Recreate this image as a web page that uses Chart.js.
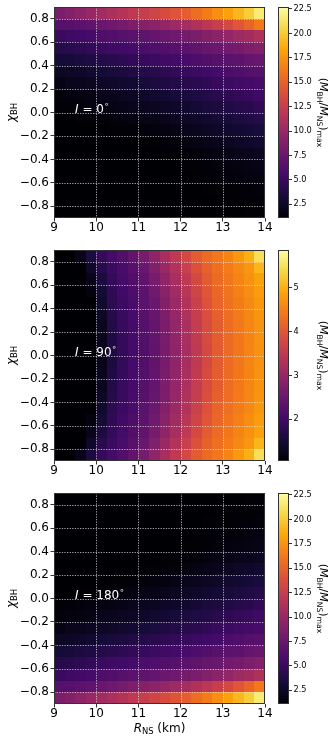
<!DOCTYPE html>
<html>
<head>
<meta charset="utf-8">
<script src="https://cdn.jsdelivr.net/npm/chart.js@4.4.1/dist/chart.umd.min.js"></script>
<style>
  html, body { margin: 0; padding: 0; background: #fff; }
  body { position: relative; width: 333px; height: 741px; overflow: hidden; }
  canvas { position: absolute; }
</style>
</head>
<body>
<canvas id="map0" width="275" height="240" style="left:0px;top:0px"></canvas>
<canvas id="bar0" width="63" height="240" style="left:270px;top:0px"></canvas>
<canvas id="map1" width="275" height="240" style="left:0px;top:243px"></canvas>
<canvas id="bar1" width="63" height="240" style="left:270px;top:243px"></canvas>
<canvas id="map2" width="275" height="255" style="left:0px;top:486px"></canvas>
<canvas id="bar2" width="63" height="240" style="left:270px;top:486px"></canvas>
<script>
// ===== DATA =====
// cell centres: R_NS (km) and chi_BH
const rCells   = [9.125, 9.375, 9.625, 9.875, 10.125, 10.375, 10.625, 10.875, 11.125, 11.375,
                  11.625, 11.875, 12.125, 12.375, 12.625, 12.875, 13.125, 13.375, 13.625, 13.875];
const chiCells = [0.85, 0.75, 0.65, 0.55, 0.45, 0.35, 0.25, 0.15, 0.05,
                  -0.05, -0.15, -0.25, -0.35, -0.45, -0.55, -0.65, -0.75, -0.85];
const inclinations = [0, 90, 180];
const rTicks   = [9, 10, 11, 12, 13, 14];
const chiTicks = [-0.8, -0.6, -0.4, -0.2, 0, 0.2, 0.4, 0.6, 0.8];
const cbTicksWide = [2.5, 5, 7.5, 10, 12.5, 15, 17.5, 20, 22.5];
const cbTicks90   = [2, 3, 4, 5];
const cbRangeWide = [1.1, 22.7];
const cbRange90   = [1.05, 5.86];

// (M_BH/M_NS)_max, rows top (chi=0.85) to bottom (chi=-0.85)
const ratioI0 = [
  [8.4, 8.9, 9.4, 10.0, 10.5, 11.0, 11.5, 12.1, 12.5, 13.1, 13.6, 14.2, 14.8, 15.6, 16.4, 17.3, 18.2, 19.1, 20.1, 21.6],
  [6.4, 6.6, 6.8, 7.1, 7.5, 7.8, 8.1, 8.6, 9.0, 9.3, 9.7, 10.2, 10.7, 11.3, 11.9, 12.6, 13.4, 14.3, 15.1, 16.2],
  [5.0, 5.2, 5.4, 5.6, 6.1, 6.3, 6.5, 6.8, 7.0, 7.3, 7.6, 7.8, 8.1, 8.4, 8.9, 9.3, 9.7, 10.2, 10.6, 11.1],
  [4.0, 4.2, 4.4, 4.7, 5.0, 5.2, 5.4, 5.6, 5.9, 6.1, 6.3, 6.5, 6.8, 7.0, 7.4, 7.6, 7.9, 8.2, 8.6, 8.9],
  [3.2, 3.3, 3.5, 3.7, 4.0, 4.2, 4.4, 4.7, 4.9, 5.1, 5.3, 5.5, 5.7, 6.0, 6.3, 6.5, 6.7, 6.9, 7.3, 7.5],
  [2.4, 2.5, 2.7, 2.9, 3.2, 3.4, 3.6, 3.8, 4.0, 4.2, 4.4, 4.7, 4.9, 5.1, 5.4, 5.6, 5.9, 6.1, 6.4, 6.6],
  [1.7, 2.0, 2.1, 2.3, 2.5, 2.6, 2.8, 3.0, 3.3, 3.5, 3.7, 3.9, 4.1, 4.3, 4.6, 4.9, 5.1, 5.3, 5.5, 5.7],
  [1.4, 1.5, 1.6, 1.7, 2.0, 2.1, 2.3, 2.4, 2.6, 2.8, 3.0, 3.3, 3.5, 3.7, 3.9, 4.2, 4.4, 4.7, 4.9, 5.2],
  [1.2, 1.3, 1.4, 1.5, 1.6, 1.7, 1.9, 2.0, 2.2, 2.3, 2.5, 2.7, 2.9, 3.1, 3.4, 3.6, 3.8, 4.0, 4.2, 4.6],
  [1.1, 1.1, 1.2, 1.2, 1.3, 1.4, 1.5, 1.6, 1.8, 1.9, 2.1, 2.3, 2.5, 2.7, 2.9, 3.1, 3.3, 3.5, 3.8, 4.0],
  [1.1, 1.1, 1.1, 1.1, 1.1, 1.2, 1.2, 1.3, 1.4, 1.5, 1.6, 1.8, 2.0, 2.2, 2.4, 2.6, 2.8, 3.0, 3.2, 3.4],
  [1.1, 1.1, 1.1, 1.1, 1.1, 1.1, 1.1, 1.1, 1.2, 1.2, 1.3, 1.4, 1.6, 1.7, 1.9, 2.1, 2.3, 2.5, 2.7, 2.9],
  [1.1, 1.1, 1.1, 1.1, 1.1, 1.1, 1.1, 1.1, 1.1, 1.1, 1.2, 1.2, 1.3, 1.4, 1.5, 1.7, 1.8, 2.0, 2.1, 2.3],
  [1.1, 1.1, 1.1, 1.1, 1.1, 1.1, 1.1, 1.1, 1.1, 1.1, 1.1, 1.1, 1.2, 1.2, 1.3, 1.4, 1.5, 1.6, 1.7, 1.9],
  [1.1, 1.1, 1.1, 1.1, 1.1, 1.1, 1.1, 1.1, 1.1, 1.1, 1.1, 1.1, 1.1, 1.2, 1.2, 1.3, 1.3, 1.4, 1.5, 1.6],
  [1.1, 1.1, 1.1, 1.1, 1.1, 1.1, 1.1, 1.1, 1.1, 1.1, 1.1, 1.1, 1.1, 1.1, 1.2, 1.2, 1.2, 1.3, 1.3, 1.4],
  [1.1, 1.1, 1.1, 1.1, 1.1, 1.1, 1.1, 1.1, 1.1, 1.1, 1.1, 1.1, 1.1, 1.1, 1.1, 1.1, 1.2, 1.2, 1.2, 1.3],
  [1.1, 1.1, 1.1, 1.1, 1.1, 1.1, 1.1, 1.1, 1.1, 1.1, 1.1, 1.1, 1.1, 1.1, 1.1, 1.1, 1.1, 1.1, 1.2, 1.2]
];

const ratioI90 = [
  [1.05, 1.05, 1.24, 1.60, 1.87, 2.04, 2.20, 2.40, 2.64, 2.93, 3.21, 3.50, 3.79, 4.06, 4.25, 4.39, 4.54, 4.75, 4.99, 5.48],
  [1.05, 1.05, 1.05, 1.40, 1.74, 1.94, 2.09, 2.28, 2.47, 2.75, 3.04, 3.33, 3.62, 3.91, 4.15, 4.31, 4.45, 4.60, 4.74, 5.04],
  [1.05, 1.05, 1.05, 1.24, 1.60, 1.87, 2.04, 2.20, 2.40, 2.64, 2.93, 3.21, 3.50, 3.79, 4.06, 4.25, 4.39, 4.54, 4.68, 4.85],
  [1.05, 1.05, 1.05, 1.14, 1.51, 1.81, 2.00, 2.15, 2.34, 2.56, 2.84, 3.13, 3.42, 3.71, 3.99, 4.21, 4.35, 4.50, 4.64, 4.80],
  [1.05, 1.05, 1.05, 1.05, 1.43, 1.77, 1.96, 2.10, 2.30, 2.49, 2.78, 3.07, 3.35, 3.64, 3.93, 4.17, 4.32, 4.46, 4.60, 4.75],
  [1.05, 1.05, 1.05, 1.05, 1.35, 1.70, 1.92, 2.07, 2.26, 2.45, 2.72, 3.01, 3.30, 3.58, 3.87, 4.12, 4.29, 4.43, 4.58, 4.72],
  [1.05, 1.05, 1.05, 1.05, 1.30, 1.66, 1.90, 2.06, 2.23, 2.43, 2.69, 2.97, 3.26, 3.55, 3.84, 4.09, 4.27, 4.42, 4.56, 4.71],
  [1.05, 1.05, 1.05, 1.05, 1.27, 1.63, 1.88, 2.05, 2.22, 2.41, 2.66, 2.95, 3.24, 3.53, 3.82, 4.08, 4.26, 4.40, 4.55, 4.69],
  [1.05, 1.05, 1.05, 1.05, 1.24, 1.60, 1.87, 2.04, 2.20, 2.40, 2.64, 2.93, 3.21, 3.50, 3.79, 4.06, 4.25, 4.39, 4.54, 4.68],
  [1.05, 1.05, 1.05, 1.05, 1.24, 1.60, 1.87, 2.04, 2.20, 2.40, 2.64, 2.93, 3.21, 3.50, 3.79, 4.06, 4.25, 4.39, 4.54, 4.68],
  [1.05, 1.05, 1.05, 1.05, 1.27, 1.63, 1.88, 2.05, 2.22, 2.41, 2.66, 2.95, 3.24, 3.53, 3.82, 4.08, 4.26, 4.40, 4.55, 4.69],
  [1.05, 1.05, 1.05, 1.05, 1.30, 1.66, 1.90, 2.06, 2.23, 2.43, 2.69, 2.97, 3.26, 3.55, 3.84, 4.09, 4.27, 4.42, 4.56, 4.71],
  [1.05, 1.05, 1.05, 1.05, 1.35, 1.70, 1.92, 2.07, 2.26, 2.45, 2.72, 3.01, 3.30, 3.58, 3.87, 4.12, 4.29, 4.43, 4.58, 4.72],
  [1.05, 1.05, 1.05, 1.05, 1.43, 1.77, 1.96, 2.10, 2.30, 2.49, 2.78, 3.07, 3.35, 3.64, 3.93, 4.17, 4.32, 4.46, 4.60, 4.75],
  [1.05, 1.05, 1.05, 1.14, 1.51, 1.81, 2.00, 2.15, 2.34, 2.56, 2.84, 3.13, 3.42, 3.71, 3.99, 4.21, 4.35, 4.50, 4.64, 4.80],
  [1.05, 1.05, 1.05, 1.24, 1.60, 1.87, 2.04, 2.20, 2.40, 2.64, 2.93, 3.21, 3.50, 3.79, 4.06, 4.25, 4.39, 4.54, 4.68, 4.85],
  [1.05, 1.05, 1.05, 1.40, 1.74, 1.94, 2.09, 2.28, 2.47, 2.75, 3.04, 3.33, 3.62, 3.91, 4.15, 4.31, 4.45, 4.60, 4.74, 5.04],
  [1.05, 1.05, 1.24, 1.60, 1.87, 2.04, 2.20, 2.40, 2.64, 2.93, 3.21, 3.50, 3.79, 4.06, 4.25, 4.39, 4.54, 4.75, 4.99, 5.48]
];

const ratioI180 = [
  [1.1, 1.1, 1.1, 1.1, 1.1, 1.1, 1.1, 1.1, 1.1, 1.1, 1.1, 1.1, 1.1, 1.1, 1.1, 1.1, 1.1, 1.1, 1.2, 1.2],
  [1.1, 1.1, 1.1, 1.1, 1.1, 1.1, 1.1, 1.1, 1.1, 1.1, 1.1, 1.1, 1.1, 1.1, 1.1, 1.1, 1.2, 1.2, 1.2, 1.3],
  [1.1, 1.1, 1.1, 1.1, 1.1, 1.1, 1.1, 1.1, 1.1, 1.1, 1.1, 1.1, 1.1, 1.1, 1.2, 1.2, 1.2, 1.3, 1.3, 1.4],
  [1.1, 1.1, 1.1, 1.1, 1.1, 1.1, 1.1, 1.1, 1.1, 1.1, 1.1, 1.1, 1.1, 1.2, 1.2, 1.3, 1.3, 1.4, 1.5, 1.6],
  [1.1, 1.1, 1.1, 1.1, 1.1, 1.1, 1.1, 1.1, 1.1, 1.1, 1.1, 1.1, 1.2, 1.2, 1.3, 1.4, 1.5, 1.6, 1.7, 1.9],
  [1.1, 1.1, 1.1, 1.1, 1.1, 1.1, 1.1, 1.1, 1.1, 1.1, 1.2, 1.2, 1.3, 1.4, 1.5, 1.7, 1.8, 2.0, 2.1, 2.3],
  [1.1, 1.1, 1.1, 1.1, 1.1, 1.1, 1.1, 1.1, 1.2, 1.2, 1.3, 1.4, 1.6, 1.7, 1.9, 2.1, 2.3, 2.5, 2.7, 2.9],
  [1.1, 1.1, 1.1, 1.1, 1.1, 1.2, 1.2, 1.3, 1.4, 1.5, 1.6, 1.8, 2.0, 2.2, 2.4, 2.6, 2.8, 3.0, 3.2, 3.4],
  [1.1, 1.1, 1.2, 1.2, 1.3, 1.4, 1.5, 1.6, 1.8, 1.9, 2.1, 2.3, 2.5, 2.7, 2.9, 3.1, 3.3, 3.5, 3.8, 4.0],
  [1.2, 1.3, 1.4, 1.5, 1.6, 1.7, 1.9, 2.0, 2.2, 2.3, 2.5, 2.7, 2.9, 3.1, 3.4, 3.6, 3.8, 4.0, 4.2, 4.6],
  [1.4, 1.5, 1.6, 1.7, 2.0, 2.1, 2.3, 2.4, 2.6, 2.8, 3.0, 3.3, 3.5, 3.7, 3.9, 4.2, 4.4, 4.7, 4.9, 5.2],
  [1.7, 2.0, 2.1, 2.3, 2.5, 2.6, 2.8, 3.0, 3.3, 3.5, 3.7, 3.9, 4.1, 4.3, 4.6, 4.9, 5.1, 5.3, 5.5, 5.7],
  [2.4, 2.5, 2.7, 2.9, 3.2, 3.4, 3.6, 3.8, 4.0, 4.2, 4.4, 4.7, 4.9, 5.1, 5.4, 5.6, 5.9, 6.1, 6.4, 6.6],
  [3.2, 3.3, 3.5, 3.7, 4.0, 4.2, 4.4, 4.7, 4.9, 5.1, 5.3, 5.5, 5.7, 6.0, 6.3, 6.5, 6.7, 6.9, 7.3, 7.5],
  [4.0, 4.2, 4.4, 4.7, 5.0, 5.2, 5.4, 5.6, 5.9, 6.1, 6.3, 6.5, 6.8, 7.0, 7.4, 7.6, 7.9, 8.2, 8.6, 8.9],
  [5.0, 5.2, 5.4, 5.6, 6.1, 6.3, 6.5, 6.8, 7.0, 7.3, 7.6, 7.8, 8.1, 8.4, 8.9, 9.3, 9.7, 10.2, 10.6, 11.1],
  [6.4, 6.6, 6.8, 7.1, 7.5, 7.8, 8.1, 8.6, 9.0, 9.3, 9.7, 10.2, 10.7, 11.3, 11.9, 12.6, 13.4, 14.3, 15.1, 16.2],
  [8.4, 8.9, 9.4, 10.0, 10.5, 11.0, 11.5, 12.1, 12.5, 13.1, 13.6, 14.2, 14.8, 15.6, 16.4, 17.3, 18.2, 19.1, 20.1, 21.6]
];

// ===== HELPERS =====
const FONT = '"DejaVu Sans", sans-serif';
const PLOT_BOTTOM = 218;

const infernoStops = ['#000004', '#160b39', '#420a68', '#6a176e', '#932667', '#bc3754',
                      '#dd513a', '#f37819', '#fca50a', '#f6d746', '#fcffa4'];
const infernoRgb = infernoStops.map(h => [1, 3, 5].map(i => parseInt(h.slice(i, i + 2), 16)));

function inferno(t) {
  t = Math.min(1, Math.max(0, t));
  const f = t * 10, i = Math.min(9, Math.floor(f)), u = f - i;
  const a = infernoRgb[i], b = infernoRgb[i + 1];
  return 'rgb(' + a.map((c, k) => Math.round(c + (b[k] - c) * u)).join(',') + ')';
}

function cellsOf(grid) {
  const w = rCells[1] - rCells[0], h = chiCells[0] - chiCells[1];
  const out = [];
  grid.forEach((row, j) => row.forEach((v, i) => {
    out.push({ x: rCells[i], y: chiCells[j], v: v, w: w, h: h });
  }));
  return out;
}

// rich text: parts = [{t, it, sub, sup}]
function partFont(p, size) {
  const s = (p.sub || p.sup) ? size * 0.7 : size;
  return (p.it ? 'italic ' : '') + s + 'px ' + FONT;
}
function partsWidth(ctx, parts, size) {
  let w = 0;
  parts.forEach(p => { ctx.font = partFont(p, size); w += ctx.measureText(p.t).width; });
  return w;
}
function drawParts(ctx, parts, x, y, size) {
  let cx = x;
  ctx.textBaseline = 'alphabetic';
  ctx.textAlign = 'left';
  parts.forEach(p => {
    ctx.font = partFont(p, size);
    const dy = p.sub ? size * 0.2 : (p.sup ? -size * 0.42 : 0);
    ctx.fillText(p.t, cx, y + dy);
    cx += ctx.measureText(p.t).width;
  });
}

const yTitle  = [{ t: 'χ', it: true }, { t: 'BH', sub: true }];
const xTitle  = [{ t: 'R', it: true }, { t: 'NS', sub: true }, { t: ' (km)' }];
const cbTitle = [{ t: '(' }, { t: 'M', it: true }, { t: 'BH', sub: true }, { t: '/' },
                 { t: 'M', it: true }, { t: 'NS', sub: true }, { t: ')' }, { t: 'max', sub: true }];

function fixSize(prop, val) {
  return function (s) {
    s[prop] = val;
    s.paddingLeft = s.paddingRight = s.paddingTop = s.paddingBottom = 0;
  };
}

// ===== HEATMAP PLUGIN =====
const heatPlugin = {
  id: 'heat',
  beforeDatasetsDraw(chart, args, opts) {
    const ctx = chart.ctx, sx = chart.scales.x, sy = chart.scales.y;
    ctx.save();
    chart.data.datasets[0].data.forEach(c => {
      const x0 = Math.round(sx.getPixelForValue(c.x - c.w / 2));
      const x1 = Math.round(sx.getPixelForValue(c.x + c.w / 2));
      const y0 = Math.round(sy.getPixelForValue(c.y + c.h / 2));
      const y1 = Math.round(sy.getPixelForValue(c.y - c.h / 2));
      ctx.fillStyle = inferno((c.v - opts.min) / (opts.max - opts.min));
      ctx.fillRect(x0, y0, x1 - x0, y1 - y0);
    });
    ctx.restore();
  },
  afterDatasetsDraw(chart, args, opts) {
    const ctx = chart.ctx, a = chart.chartArea, sx = chart.scales.x, sy = chart.scales.y;
    ctx.save();
    // dotted grid over the image
    ctx.strokeStyle = 'rgba(235,235,235,0.85)';
    ctx.lineWidth = 0.8;
    ctx.setLineDash([1.3, 1.3]);
    sx.ticks.forEach(t => {
      const px = Math.round(sx.getPixelForValue(t.value)) + 0.5;
      ctx.beginPath(); ctx.moveTo(px, a.top); ctx.lineTo(px, a.bottom); ctx.stroke();
    });
    sy.ticks.forEach(t => {
      const py = Math.round(sy.getPixelForValue(t.value)) + 0.5;
      ctx.beginPath(); ctx.moveTo(a.left, py); ctx.lineTo(a.right, py); ctx.stroke();
    });
    ctx.setLineDash([]);
    // frame
    ctx.strokeStyle = '#333';
    ctx.lineWidth = 1;
    ctx.strokeRect(a.left + 0.5, a.top + 0.5, a.right - a.left - 1, a.bottom - a.top - 1);
    // inclination tag
    ctx.fillStyle = '#fff';
    drawParts(ctx, [{ t: 'I', it: true }, { t: ' = ' }, { t: String(opts.inc) }, { t: '∘', sup: true }],
      sx.getPixelForValue(9.5), sy.getPixelForValue(0), 12);
    ctx.restore();
  },
  afterDraw(chart, args, opts) {
    const ctx = chart.ctx, a = chart.chartArea;
    ctx.save();
    ctx.fillStyle = '#000';
    // y title
    const wy = partsWidth(ctx, yTitle, 12);
    ctx.translate(14.5, (a.top + a.bottom) / 2);
    ctx.rotate(-Math.PI / 2);
    drawParts(ctx, yTitle, -wy / 2, 0, 12);
    ctx.restore();
    if (opts.xTitle) {
      ctx.save();
      ctx.fillStyle = '#000';
      const wx = partsWidth(ctx, xTitle, 12);
      drawParts(ctx, xTitle, (a.left + a.right) / 2 - wx / 2, a.bottom + 27.5, 12);
      ctx.restore();
    }
  }
};

// ===== COLORBAR PLUGIN =====
const barPlugin = {
  id: 'cbar',
  beforeDatasetsDraw(chart, args, opts) {
    const ctx = chart.ctx, a = chart.chartArea, sy = chart.scales.y;
    ctx.save();
    for (let py = Math.round(a.top); py < Math.round(a.bottom); py++) {
      const v = sy.getValueForPixel(py + 0.5);
      ctx.fillStyle = inferno((v - opts.min) / (opts.max - opts.min));
      ctx.fillRect(a.left, py, a.right - a.left, 1);
    }
    ctx.restore();
  },
  afterDraw(chart, args, opts) {
    const ctx = chart.ctx, a = chart.chartArea;
    ctx.save();
    ctx.strokeStyle = '#333';
    ctx.lineWidth = 1;
    ctx.strokeRect(a.left + 0.5, a.top + 0.5, a.right - a.left - 1, a.bottom - a.top - 1);
    ctx.fillStyle = '#000';
    const w = partsWidth(ctx, cbTitle, 11);
    ctx.translate(a.right + 30.5, (a.top + a.bottom) / 2);
    ctx.rotate(Math.PI / 2);
    drawParts(ctx, cbTitle, -w / 2, 0, 11);
    ctx.restore();
  }
};

// ===== BUILD =====
const panels = [
  { grid: ratioI0,   range: cbRangeWide, cbTicks: cbTicksWide, dec: 1, xTitle: false },
  { grid: ratioI90,  range: cbRange90,   cbTicks: cbTicks90,   dec: 0, xTitle: false },
  { grid: ratioI180, range: cbRangeWide, cbTicks: cbTicksWide, dec: 1, xTitle: true }
];

panels.forEach(function (p, k) {
  const mapCanvas = document.getElementById('map' + k);
  const barCanvas = document.getElementById('bar' + k);

  new Chart(mapCanvas, {
    type: 'scatter',
    data: { datasets: [{ data: cellsOf(p.grid), pointRadius: 0, pointHoverRadius: 0 }] },
    options: {
      responsive: false,
      animation: false,
      events: [],
      layout: { padding: { top: 7, right: 10, left: 0, bottom: 0 } },
      plugins: {
        legend: { display: false },
        tooltip: { enabled: false },
        heat: { min: p.range[0], max: p.range[1], inc: inclinations[k], xTitle: p.xTitle }
      },
      scales: {
        x: {
          type: 'linear', min: 9, max: 14,
          afterBuildTicks: s => { s.ticks = rTicks.map(v => ({ value: v })); },
          afterFit: fixSize('height', mapCanvas.height - PLOT_BOTTOM),
          ticks: { autoSkip: false, maxRotation: 0, color: '#000', padding: -1,
                   font: { family: FONT, size: 12 }, callback: v => String(v) },
          grid: { drawOnChartArea: false, tickLength: 3.5, tickColor: '#000', tickWidth: 0.8 },
          border: { display: false }
        },
        y: {
          type: 'linear', min: -0.9, max: 0.9,
          afterBuildTicks: s => { s.ticks = chiTicks.map(v => ({ value: v })); },
          afterFit: fixSize('width', 54),
          ticks: { autoSkip: false, color: '#000', padding: 1.5,
                   font: { family: FONT, size: 12 },
                   callback: v => (v < 0 ? '\u2212' : '') + Math.abs(v).toFixed(1) },
          grid: { drawOnChartArea: false, tickLength: 3.5, tickColor: '#000', tickWidth: 0.8 },
          border: { display: false }
        }
      }
    },
    plugins: [heatPlugin]
  });

  new Chart(barCanvas, {
    type: 'scatter',
    data: { datasets: [] },
    options: {
      responsive: false,
      animation: false,
      events: [],
      layout: { padding: { top: 7, right: 0, left: 8, bottom: barCanvas.height - PLOT_BOTTOM } },
      plugins: {
        legend: { display: false },
        tooltip: { enabled: false },
        cbar: { min: p.range[0], max: p.range[1] }
      },
      scales: {
        x: { display: false, min: 0, max: 1 },
        y: {
          type: 'linear', position: 'right', min: p.range[0], max: p.range[1],
          afterBuildTicks: s => { s.ticks = p.cbTicks.map(v => ({ value: v })); },
          afterFit: fixSize('width', 44),
          ticks: { autoSkip: false, color: '#000', padding: 1.5,
                   font: { family: FONT, size: 8.2 },
                   callback: v => v.toFixed(p.dec) },
          grid: { drawOnChartArea: false, tickLength: 3, tickColor: '#000', tickWidth: 0.8 },
          border: { display: false }
        }
      }
    },
    plugins: [barPlugin]
  });
});
</script>
</body>
</html>
